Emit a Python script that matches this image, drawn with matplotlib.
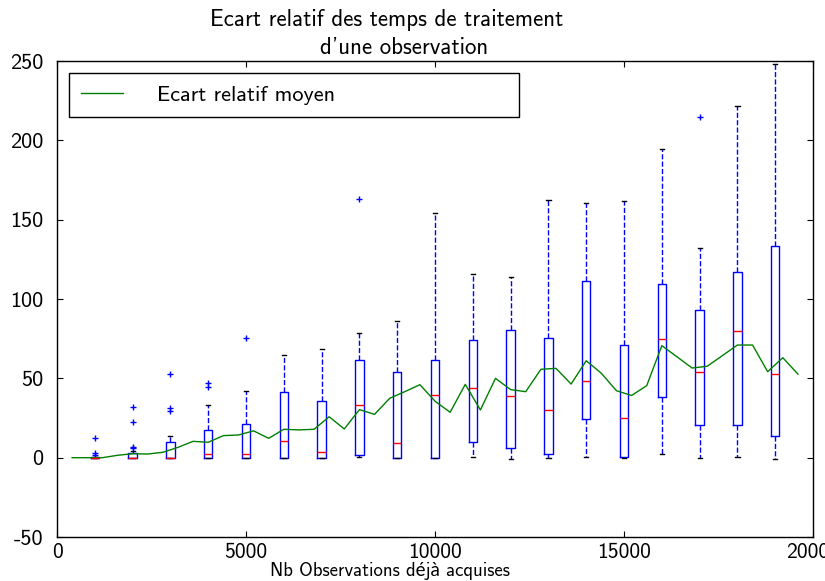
import matplotlib
matplotlib.use("Agg")
import matplotlib.pyplot as plt

plt.rcParams['font.family'] = ['cmss10', 'Lato', 'DejaVu Sans']
plt.rcParams['axes.unicode_minus'] = False

# ---- data ----
box_positions = [1000, 2000, 3000, 4000, 5000, 6000, 7000, 8000, 9000, 10000,
                 11000, 12000, 13000, 14000, 15000, 16000, 17000, 18000, 19000]
box_q1 = [0, 0, 0, 0, 0, 0, 0, 1.9, 0, 0, 9.7, 6.1, 2.3, 24.4, 0.2, 38.1, 20.4, 20.6, 13.5]
box_med = [0, 0, 0, 2.3, 2.6, 10.3, 3.4, 33.2, 9.5, 39.3, 43.7, 38.7, 29.9, 48.3, 25.0,
           74.6, 54.0, 80.0, 52.7]
box_q3 = [0.5, 2.8, 9.6, 17.7, 21.4, 41.4, 35.8, 61.4, 53.8, 61.8, 74.4, 80.7, 75.2,
          111.3, 70.8, 109.7, 93.1, 116.8, 133.2]
box_whislo = [0, 0, 0, 0, 0, 0, 0, 0.4, 0, 0, 0.4, -0.6, -0.4, 0.4, -0.4, 2.1, -0.4, 0.2, -0.8]
box_whishi = [0.5, 4.0, 13.6, 33.1, 42.2, 64.7, 68.5, 78.6, 86.0, 154.0, 116.0, 113.7,
              162.3, 160.7, 161.7, 194.5, 132.3, 221.8, 248.0]
box_fliers = [[12.2, 2.8, 1.7], [31.8, 22.5, 6.9, 5.9], [52.5, 31.1, 29.4], [47.3, 44.7],
              [75.4], [], [], [162.8], [], [], [], [], [], [], [], [], [214.5], [], []]

line_x = list(range(400, 19601, 400))
line_y = [0, 0, 0, 1.5, 2.5, 2.3, 3.4, 6.5, 10.3, 9.7,
          13.9, 14.3, 16.9, 12.2, 17.9, 17.5, 17.9, 25.8, 18.1, 30.3,
          27.3, 37.4, 41.6, 46.0, 35.6, 28.6, 46.2, 30.1, 50.0, 42.9,
          41.6, 55.7, 56.3, 46.4, 61.1, 53.2, 42.2, 39.2, 45.4, 70.6,
          63.6, 56.5, 57.6, 64.3, 71.0, 71.0, 54.2, 63.0, 52.7]

title_line1 = "Ecart relatif des temps de traitement"
title_line2 = "d'une observation"
x_label = "Nb Observations déjà acquises"
legend_label = "Ecart relatif moyen"
x_ticks = [0, 5000, 10000, 15000, 20000]
y_ticks = [-50, 0, 50, 100, 150, 200, 250]

# ---- figure ----
fig = plt.figure(figsize=(8.25, 5.81), dpi=100)
ax = fig.add_axes([0.0691, 0.0757, 0.9164, 0.8193])

stats = []
for q1, med, q3, lo, hi, fl in zip(box_q1, box_med, box_q3, box_whislo, box_whishi, box_fliers):
    stats.append(dict(q1=q1, med=med, q3=q3, whislo=lo, whishi=hi, fliers=fl))

ax.bxp(stats, positions=box_positions, widths=220, manage_ticks=False,
       boxprops=dict(color='#0000ff', linewidth=1.0),
       whiskerprops=dict(color='#0000ff', linestyle='--', linewidth=1.0),
       capprops=dict(color='black', linewidth=1.0),
       medianprops=dict(color='#ff0000', linewidth=1.0),
       flierprops=dict(marker='+', markeredgecolor='#0000ff', markersize=4, linestyle='none'))

ax.plot(line_x, line_y, color='#008000', linewidth=1.0, label=legend_label)

ax.set_xlim(0, 20000)
ax.set_ylim(-50, 250)
ax.set_xticks(x_ticks)
ax.set_yticks(y_ticks)
ax.tick_params(direction='in', top=True, right=True, length=4, labelsize=16)
ax.tick_params(axis='y', pad=10)
ax.tick_params(axis='x', pad=4, labelsize=15.5)
for s in ax.spines.values():
    s.set_linewidth(1.0)

fig.text(390 / 825, 1 - 576 / 581, x_label, ha='center', va='baseline', fontsize=13.5)

fig.text(387 / 825, 1 - 20 / 581, title_line1, ha='center', va='center', fontsize=16.5)
fig.text(404 / 825, 1 - 48 / 581, title_line2, ha='center', va='center', fontsize=16.5)

leg = ax.legend(loc='upper left', bbox_to_anchor=(0.0159, 0.975, 0.595, 0.0),
                mode='expand', borderaxespad=0, fontsize=16, handlelength=1.9,
                handletextpad=1.5, borderpad=0.55, fancybox=False, framealpha=1)
leg.get_frame().set_edgecolor('black')
leg.get_frame().set_linewidth(1.0)

fig.savefig('out.png', dpi=100)
